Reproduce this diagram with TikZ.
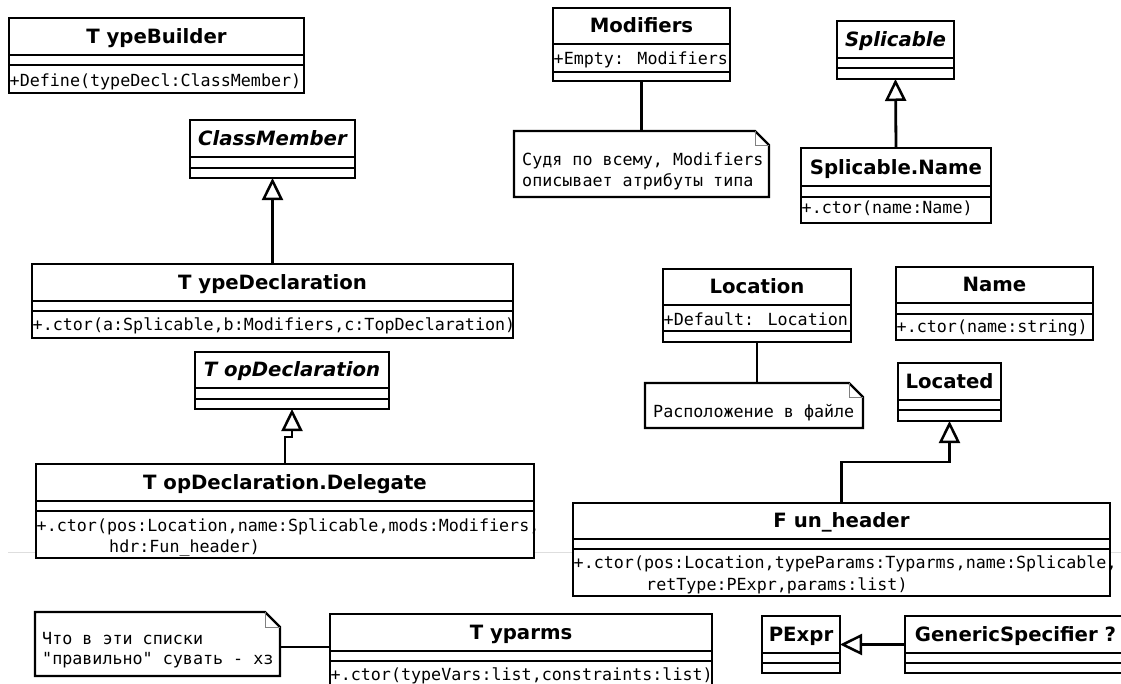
\documentclass[tikz,border=0pt]{standalone}
\usepackage{fontspec}
\setmainfont{DejaVu Sans}
\newfontfamily\monof{DejaVu Sans Mono}
\usetikzlibrary{arrows.meta,fit,calc}

\tikzset{
  ln/.style={line width=2.8pt, line join=miter},
  nln/.style={line width=2.3pt, line join=miter},
  clsfill/.style={fill=white, inner sep=0pt, outer sep=0pt},
  ttl/.style={font=\fontsize{19.7}{23}\selectfont\bfseries, anchor=base, inner sep=0pt},
  ittl/.style={font=\fontsize{19.7}{23}\selectfont\bfseries\itshape, anchor=base, inner sep=0pt},
  txt/.style={font=\monof\fontsize{16.7}{21}\selectfont, anchor=base west, inner sep=0pt},
  inh/.style={ln, -{Triangle[open, length=22pt, width=21pt, line width=2.5pt]}},
  foldln/.style={line width=1pt, draw=gray},
  bgline/.style={line width=1pt, draw=black!13},
}

% name x1 y1 x2 y2 s1 s2 titlestyle title
\newcommand\umlclass[9]{%
  \coordinate (#1-nw) at (#2,#3);
  \coordinate (#1-se) at (#4,#5);
  \node[clsfill, fit=(#1-nw)(#1-se)] (#1) {};
  \node[#8] (#1-t) at ({(#2+#4)/2},{#6-11.5}) {#9};
  \def\curframe{\draw[ln] (#2,#3) rectangle (#4,#5) (#2,#6) -- (#4,#6) (#2,#7) -- (#4,#7);}%
}
% name x1 y1 x2 y2 fold
\newcommand\umlnote[6]{%
  \coordinate (#1-nw) at (#2,#3);
  \coordinate (#1-se) at (#4,#5);
  \node[clsfill, fit=(#1-nw)(#1-se)] (#1) {};
  \draw[nln] (#2,#3) -- ({#4-#6},#3) -- (#4,{#3+#6}) -- (#4,#5) -- (#2,#5) -- cycle;
  \draw[foldln] ({#4-#6},#3) -- ({#4-#6},{#3+#6}) -- (#4,{#3+#6});
}

\begin{document}
\begin{tikzpicture}[x=1pt,y=-1pt]
\useasboundingbox (0,0) rectangle (1121,683);
\clip (0,0) rectangle (1121,683);
\fill[white] (0,0) rectangle (1121,683);

\draw[bgline] (8,552) -- (1121,552);

% TypeBuilder
\umlclass{tb}{9}{18}{304}{93}{55}{65}{ttl}{T ypeBuilder}
\node[txt] (tb-o) at (9.5,86) {+Define(typeDecl:ClassMember)};
\curframe

% ClassMember
\umlclass{cm}{190}{120}{355}{178}{157}{168}{ittl}{ClassMember}
\curframe

% Modifiers
\umlclass{mod}{553}{8}{730}{81}{44}{72}{ttl}{Modifiers}
\node[txt] (mod-a) at (553.5,64) {+Empty: Modifiers};
\curframe

% Splicable
\umlclass{spl}{837}{21}{954}{79}{58}{68}{ittl}{Splicable}
\curframe

% Splicable.Name
\umlclass{spn}{801}{148}{991}{223}{186}{197}{ttl}{Splicable.Name}
\node[txt] (spn-o) at (801.5,213) {+.ctor(name:Name)};
\curframe

% TypeDeclaration
\umlclass{td}{32}{264}{513}{338}{301}{311}{ttl}{T ypeDeclaration}
\node[txt] (td-o) at (32.5,330) {+.ctor(a:Splicable,b:Modifiers,c:TopDeclaration)};
\curframe

% TopDeclaration
\umlclass{tdl}{195}{352}{389}{409}{388}{399}{ittl}{T opDeclaration}
\curframe

% TopDeclaration.Delegate
\umlclass{del}{36}{464}{534}{558}{501}{511}{ttl}{T opDeclaration.Delegate}
\node[txt] (del-o1) at (36.5,531) {+.ctor(pos:Location,name:Splicable,mods:Modifiers,};
\node[txt] (del-o2) at (109,552) {hdr:Fun\_header)};
\curframe

% Location
\umlclass{loc}{663}{269}{851}{342}{305}{331}{ttl}{Location}
\node[txt] (loc-a) at (663.5,325) {+Default: Location};
\curframe

% Name
\umlclass{nm}{896}{267}{1093}{340}{303}{314}{ttl}{Name}
\node[txt] (nm-o) at (896.5,332) {+.ctor(name:string)};
\curframe

% Located
\umlclass{lcd}{898}{363}{1001}{421}{400}{410}{ttl}{Located}
\curframe

% Fun_header
\umlclass{fh}{573}{503}{1110}{596}{539}{549}{ttl}{F un\_header}
\node[txt] (fh-o1) at (573.5,568) {+.ctor(pos:Location,typeParams:Typarms,name:Splicable,};
\node[txt] (fh-o2) at (646,590) {retType:PExpr,params:list)};
\curframe

% Typarms
\umlclass{typ}{330}{614}{712}{690}{651}{661}{ttl}{T yparms}
\node[txt] (typ-o) at (330.5,680) {+.ctor(typeVars:list,constraints:list)};
\curframe

% PExpr
\umlclass{pe}{762}{616}{840}{673}{653}{663}{ttl}{PExpr}
\curframe

% GenericSpecifier
\umlclass{gs}{905}{616}{1126}{673}{653}{663}{ttl}{GenericSpecifier ?}
\curframe

% Notes
\umlnote{n1}{514}{131}{769}{197}{14}
\node[txt] (n1-a) at (522,165) {Судя по всему, Modifiers};
\node[txt] (n1-b) at (522,186) {описывает атрибуты типа};

\umlnote{n2}{645}{383}{863}{428}{14}
\node[txt] (n2-a) at (653,417) {Расположение в файле};

\umlnote{n3}{35}{612}{280}{676}{15}
\node[txt] (n3-a) at (42,644) {Что в эти списки};
\node[txt] (n3-b) at (42,664) {"правильно" сувать - хз};

% Connectors
\draw[ln] (mod.south) -- (n1.north);
\draw[ln] (loc.south) -- (loc.south |- n2.north);
\draw[ln] ([yshift=-3pt]n3.east) -- ([yshift=-3pt]n3.east -| typ.west);
\draw[inh] (spn.north) -- (spl.south);
\draw[inh] (td.north -| cm.south) -- (cm.south);
\draw[inh] (del.north) -- ++(0,-27) -| (tdl.south);
\draw[inh] (fh.north) -- ++(0,-41) -| (lcd.south);
\draw[inh] (gs.west) -- (pe.east);
\end{tikzpicture}
\end{document}
